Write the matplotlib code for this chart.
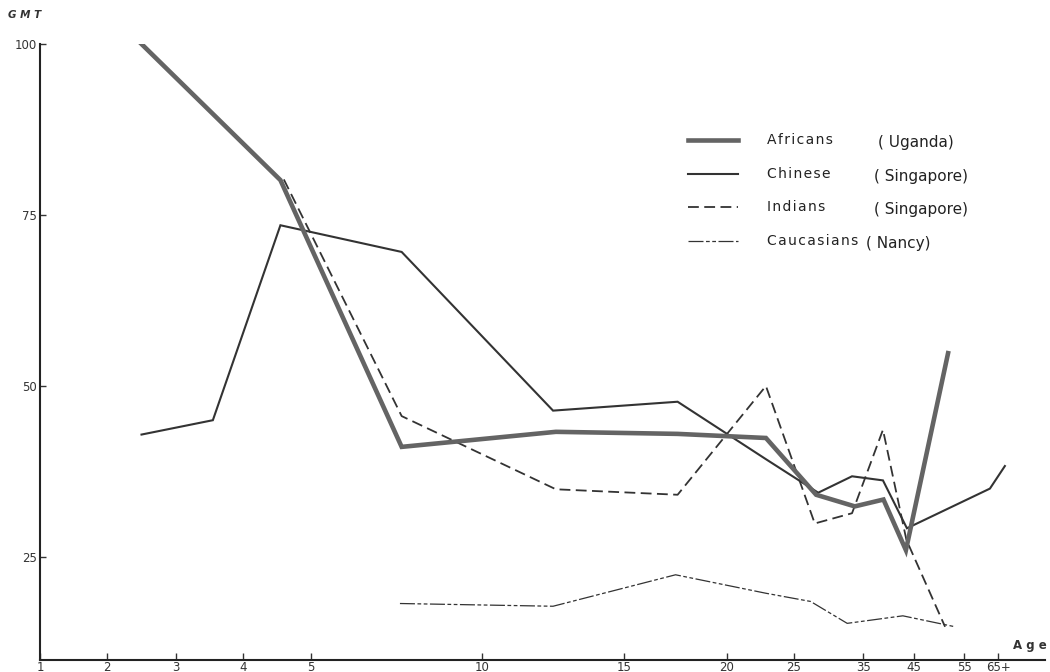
import numpy as np
import matplotlib
matplotlib.use("Agg")
import matplotlib.pyplot as plt

# Geometric mean titres by age group
afr_age = [2.5, 4.55, 7.65, 12.6, 17.6, 22.9, 28.2, 33.8, 39.0, 43.4, 51.8]
afr_gmt = [100, 80.1, 41.1, 43.3, 43.0, 42.4, 34.1, 32.4, 33.4, 26.0, 54.8]

chi_age = [2.5, 3.55, 4.55, 7.65, 12.5, 17.6, 22.9, 28.5, 33.4, 38.9, 43.6, 62.6, 67.0]
chi_gmt = [42.9, 45.0, 73.5, 69.6, 46.4, 47.7, 39.3, 34.4, 36.8, 36.2, 29.2, 35.0, 38.3]

ind_age = [4.6, 7.65, 12.6, 17.6, 22.9, 28.0, 33.4, 38.9, 43.5, 51.2]
ind_gmt = [80.2, 45.6, 34.9, 34.1, 50.0, 29.9, 31.4, 43.6, 27.5, 14.8]

cau_age = [7.6, 12.5, 17.5, 22.9, 27.4, 32.7, 42.8, 53.2]
cau_gmt = [18.2, 17.8, 22.4, 19.7, 18.5, 15.3, 16.4, 14.8]

age_ticks = [1, 2, 3, 4, 5, 10, 15, 20, 25, 35, 45, 55, 65]
age_labels = ["1", "2", "3", "4", "5", "10", "15", "20", "25", "35", "45", "55", "65+"]
gmt_ticks = [25, 50, 75, 100]

# hand-drawn age axis: piecewise spacing between the marked ages
scale_ages = [0] + age_ticks + [100]
scale_pos = [-67, 0, 67, 136, 203, 271, 442, 584, 687, 754, 823, 874, 924, 958, 1077]


def fwd(a):
    return np.interp(a, scale_ages, scale_pos)


def inv(p):
    return np.interp(p, scale_pos, scale_ages)


def spaced(s):
    return "\u200a".join(s)


fig = plt.figure(figsize=(10.5, 6.72), dpi=100)
ax = fig.add_axes([40 / 1050, 1 - 659.6 / 672, 1005 / 1050, 615.6 / 672])
ax.set_xscale("function", functions=(fwd, inv))

ink = "#333333"
thick = "#646464"
ax.plot(cau_age, cau_gmt, color=ink, lw=0.9, ls=(0, (12, 2, 3, 2, 3, 2)))
ax.plot(ind_age, ind_gmt, color=ink, lw=1.3, ls=(0, (6, 3)))
ax.plot(chi_age, chi_gmt, color=ink, lw=1.5, solid_joinstyle="miter")
ax.plot(afr_age, afr_gmt, color=thick, lw=3.3, solid_joinstyle="miter")

ax.set_xlim(1, 78.8)
ax.set_ylim(10, 100)
ax.set_xticks(age_ticks)
ax.set_xticklabels(age_labels)
ax.xaxis.set_minor_locator(matplotlib.ticker.NullLocator())
ax.set_yticks(gmt_ticks)
ax.tick_params(axis="x", direction="in", length=5, width=1, pad=1, labelsize=8.5,
               colors=ink)
ax.tick_params(axis="y", direction="in", length=4, width=1, pad=2, labelsize=8.5,
               colors=ink)
for s in ["top", "right"]:
    ax.spines[s].set_visible(False)
for s in ["left", "bottom"]:
    ax.spines[s].set_linewidth(1.5)
    ax.spines[s].set_color("#222222")

fig.text(8 / 1050, 1 - 15 / 672, "G M T", fontsize=7.5, fontweight="bold",
         fontstyle="italic", color=ink, va="center")
fig.text(1013 / 1050, 1 - 645 / 672, "A g e", fontsize=8.5, fontweight="bold",
         color=ink, va="center")

# legend drawn by hand
rows = [
    ("Africans", "( Uganda)", dict(color=thick, lw=3.3), 140, 878),
    ("Chinese", "( Singapore)", dict(color=ink, lw=1.5), 174, 874),
    ("Indians", "( Singapore)", dict(color=ink, lw=1.3, ls=(0, (6, 3))), 207, 874),
    ("Caucasians", "( Nancy)", dict(color=ink, lw=0.9, ls=(0, (12, 2, 3, 2, 3, 2))), 241, 866),
]
for name, place, style, y, xp in rows:
    fy = 1 - y / 672
    fig.add_artist(matplotlib.lines.Line2D([688 / 1050, 738 / 1050], [fy, fy],
                                           transform=fig.transFigure, **style))
    fig.text(767 / 1050, fy, spaced(name), fontsize=10, color="#222222", va="center")
    fig.text(xp / 1050, fy - 0.004, place, fontsize=11, color="#222222", va="center")

fig.savefig("out.png", dpi=100, facecolor="white")
